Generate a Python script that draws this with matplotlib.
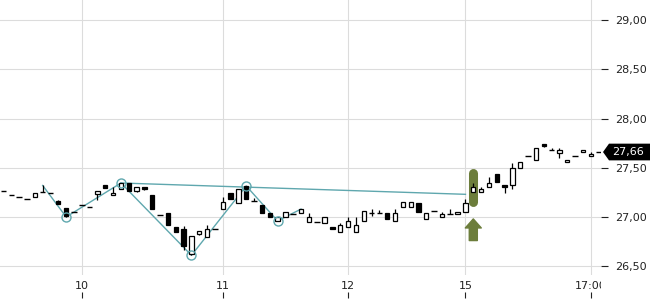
import matplotlib
matplotlib.use('Agg')
import matplotlib.pyplot as plt
from matplotlib.patches import Polygon
from matplotlib.transforms import Bbox, TransformedBbox, blended_transform_factory

# OHLC der Kerzen (von links nach rechts)
opens = [27.26, 27.22, 27.20, 27.18, 27.20, 27.25, 27.24, 27.16, 27.09, 27.05,
         27.12, 27.10, 27.23, 27.32, 27.22, 27.28, 27.345, 27.26, 27.30, 27.22,
         27.02, 27.04, 26.90, 26.88, 26.62, 26.83, 26.80, 26.88, 27.08, 27.24,
         27.14, 27.31, 27.16, 27.12, 27.04, 26.96, 27.00, 27.03, 27.04, 26.95,
         26.95, 26.94, 26.90, 26.85, 26.90, 26.85, 26.96, 27.04, 27.04, 27.04,
         26.96, 27.10, 27.10, 27.14, 26.98, 27.06, 27.00, 27.03, 27.03, 27.05,
         27.25, 27.25, 27.30, 27.44, 27.32, 27.32, 27.50, 27.62, 27.58, 27.74,
         27.68, 27.65, 27.56, 27.62, 27.66, 27.62, 27.66]
highs = [27.26, 27.22, 27.20, 27.18, 27.24, 27.32, 27.24, 27.17, 27.09, 27.05,
         27.12, 27.10, 27.26, 27.32, 27.30, 27.35, 27.345, 27.30, 27.30, 27.22,
         27.02, 27.04, 26.90, 26.91, 26.81, 26.86, 26.92, 26.88, 27.20, 27.24,
         27.28, 27.315, 27.19, 27.12, 27.04, 27.00, 27.05, 27.03, 27.08, 27.04,
         26.95, 27.00, 26.90, 26.94, 27.00, 27.00, 27.06, 27.08, 27.07, 27.04,
         27.08, 27.15, 27.15, 27.14, 27.04, 27.06, 27.05, 27.08, 27.05, 27.18,
         27.35, 27.30, 27.41, 27.44, 27.32, 27.55, 27.56, 27.62, 27.70, 27.74,
         27.70, 27.70, 27.58, 27.62, 27.68, 27.66, 27.66]
lows = [27.26, 27.22, 27.20, 27.18, 27.20, 27.25, 27.24, 27.13, 27.00, 27.05,
        27.12, 27.10, 27.17, 27.29, 27.22, 27.28, 27.26, 27.25, 27.27, 27.08,
        27.02, 26.92, 26.85, 26.66, 26.61, 26.82, 26.80, 26.88, 27.08, 27.18,
        27.14, 27.18, 27.16, 27.04, 27.00, 26.96, 27.00, 27.03, 27.04, 26.95,
        26.95, 26.94, 26.88, 26.85, 26.90, 26.85, 26.96, 27.01, 27.04, 26.98,
        26.96, 27.10, 27.10, 27.05, 26.98, 27.06, 27.00, 27.03, 27.03, 27.05,
        27.25, 27.25, 27.30, 27.36, 27.24, 27.28, 27.50, 27.62, 27.58, 27.71,
        27.68, 27.60, 27.56, 27.62, 27.66, 27.62, 27.66]
closes = [27.26, 27.22, 27.20, 27.18, 27.24, 27.25, 27.24, 27.13, 27.01, 27.05,
          27.12, 27.10, 27.26, 27.29, 27.24, 27.34, 27.26, 27.30, 27.28, 27.08,
          27.02, 26.92, 26.85, 26.70, 26.81, 26.86, 26.88, 26.88, 27.15, 27.18,
          27.28, 27.18, 27.16, 27.04, 27.00, 27.00, 27.05, 27.03, 27.08, 27.00,
          26.95, 27.00, 26.88, 26.92, 26.96, 26.92, 27.06, 27.04, 27.04, 26.98,
          27.04, 27.15, 27.15, 27.05, 27.04, 27.06, 27.03, 27.03, 27.05, 27.14,
          27.30, 27.28, 27.35, 27.36, 27.30, 27.50, 27.56, 27.62, 27.70, 27.72,
          27.68, 27.68, 27.58, 27.62, 27.68, 27.64, 27.66]

x_tick_pos = [10, 28, 44, 59, 75]
x_tick_labels = ['10', '11', '12', '15', '17:00']
y_ticks = [26.5, 27.0, 27.5, 28.0, 28.5, 29.0]
y_tick_labels = ['26,50', '27,00', '27,50', '28,00', '28,50', '29,00']

# Zickzack-Linie und Wendepunkte
zigzag_idx = [5, 8, 15, 24, 31, 35, 38]
zigzag_val = [27.32, 27.00, 27.345, 26.61, 27.315, 26.96, 27.08]
pivot_idx = [8, 15, 24, 31, 35]
pivot_val = [27.00, 27.345, 26.61, 27.315, 26.96]
# Trendlinie ueber die Hochs
trend_idx = [15, 59]
trend_val = [27.345, 27.23]
# Signal
signal_idx = 60
signal_lo, signal_hi = 27.15, 27.45
arrow_lo, arrow_hi = 26.76, 26.98
last_price = 27.66

teal = '#5fa7ae'
green = '#6c7d3b'
txt = '#222222'

fig = plt.figure(figsize=(6.5, 3.0), dpi=100)
ax = fig.add_axes([0, 25 / 300, 601 / 650, 275 / 300])
ax.set_xlim(-0.45, 76.31)
ax.set_ylim(26.41, 29.205)

ax.grid(True, color='#dcdcdc', lw=0.8, zorder=0)
ax.set_axisbelow(True)
for s in ax.spines.values():
    s.set_visible(False)

# Signal-Balken und Pfeil
ax.plot([signal_idx, signal_idx], [signal_lo, signal_hi], color=green, lw=6.5,
        solid_capstyle='round', zorder=1)
ax.annotate('', xy=(signal_idx, arrow_hi), xytext=(signal_idx, arrow_lo),
            arrowprops=dict(arrowstyle='simple,head_width=1.15,head_length=0.65,tail_width=0.58',
                            color=green, shrinkA=0, shrinkB=0))

ax.plot(zigzag_idx, zigzag_val, color=teal, lw=1.0, zorder=2)
ax.plot(trend_idx, trend_val, color=teal, lw=1.0, zorder=2)
ax.plot(pivot_idx, pivot_val, 'o', ms=6.5, mfc='none', mec=teal, mew=1.0, zorder=4)

# Kerzen
w = 0.55
for i in range(len(opens)):
    o, h, l, c = opens[i], highs[i], lows[i], closes[i]
    ax.vlines(i, l, h, color='black', lw=0.9, zorder=3)
    if o == c:
        ax.hlines(o, i - 0.36, i + 0.36, color='black', lw=1.0, zorder=3)
    else:
        fc = 'white' if c > o else 'black'
        ax.bar(i, abs(c - o), bottom=min(o, c), width=w, facecolor=fc,
               edgecolor='black', lw=0.9, zorder=3)

ax.yaxis.tick_right()
ax.set_yticks(y_ticks)
ax.set_yticklabels(y_tick_labels)
ax.tick_params(axis='y', length=5, width=0.8, color=txt, pad=5, labelsize=8, labelcolor=txt)

ax.set_xticks(x_tick_pos)
ax.set_xticklabels(x_tick_labels)
ax.tick_params(axis='x', length=0, pad=4.5, labelsize=8, labelcolor=txt)
clip = TransformedBbox(Bbox([[0, 0], [601 / 650, 1]]), fig.transFigure)
for lbl in ax.get_xticklabels():
    lbl.set_clip_on(True)
    lbl.set_clip_box(clip)

sec = ax.secondary_xaxis(-17 / 275)
sec.set_xticks(x_tick_pos)
sec.set_xticklabels([])
sec.tick_params(length=4, width=0.8, color=txt)
for s in sec.spines.values():
    s.set_visible(False)

# Kursfahne rechts
tr = blended_transform_factory(fig.transFigure, ax.transData)
tag = Polygon([(603 / 650, last_price), (609 / 650, last_price + 0.085), (1.0, last_price + 0.085),
               (1.0, last_price - 0.085), (609 / 650, last_price - 0.085)],
              closed=True, transform=tr, facecolor='black', edgecolor='none', clip_on=False, zorder=5)
ax.add_patch(tag)
ax.text(612 / 650, last_price, f'{last_price:.2f}'.replace('.', ','), transform=tr, color='white',
        fontsize=8, va='center', ha='left', clip_on=False, zorder=6)

fig.savefig('out.png', dpi=100)
